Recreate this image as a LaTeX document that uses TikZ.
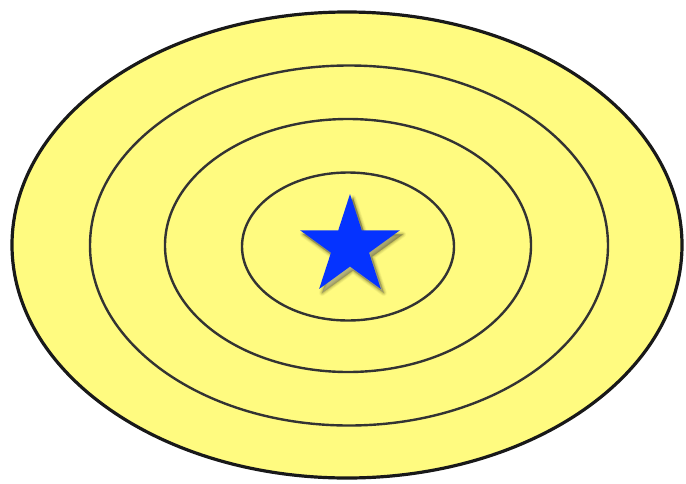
\documentclass[tikz,border=0pt]{standalone}
\definecolor{ringfill}{RGB}{255,251,128}
\definecolor{starblue}{RGB}{5,51,255}
\definecolor{shade}{RGB}{90,85,20}
\tikzset{
  ring/.style={draw=black!80, line width=2.4pt},
  outerring/.style={draw=black!90, line width=3.2pt, fill=ringfill},
}
\begin{document}
\begin{tikzpicture}[x=1pt,y=-1pt]
\useasboundingbox (0,0) rectangle (686,483);
\fill[white] (0,0) rectangle (686,483);
\draw[outerring] (347,245) ellipse [x radius=335, y radius=233];
\draw[ring] (349,245.5) ellipse [x radius=259, y radius=180];
\draw[ring] (348,245.5) ellipse [x radius=183, y radius=126.5];
\draw[ring] (348,246.5) ellipse [x radius=106, y radius=74];
% star shadow (soft)
\foreach \d/\o in {6/0.06,4.5/0.08,3/0.10,1.5/0.12}{
  \fill[shade, opacity=\o, line join=round, draw=shade, line width=\d pt]
    plot[samples at={0,...,9}] ({350+3+(mod(\x,2)==0?52.5:20)*cos(90+36*\x)},{246.5+4-(mod(\x,2)==0?52.5:20)*sin(90+36*\x)}) -- cycle;
}
\fill[starblue]
  plot[samples at={0,...,9}] ({350+(mod(\x,2)==0?52.5:20)*cos(90+36*\x)},{246.5-(mod(\x,2)==0?52.5:20)*sin(90+36*\x)}) -- cycle;
\end{tikzpicture}
\end{document}
